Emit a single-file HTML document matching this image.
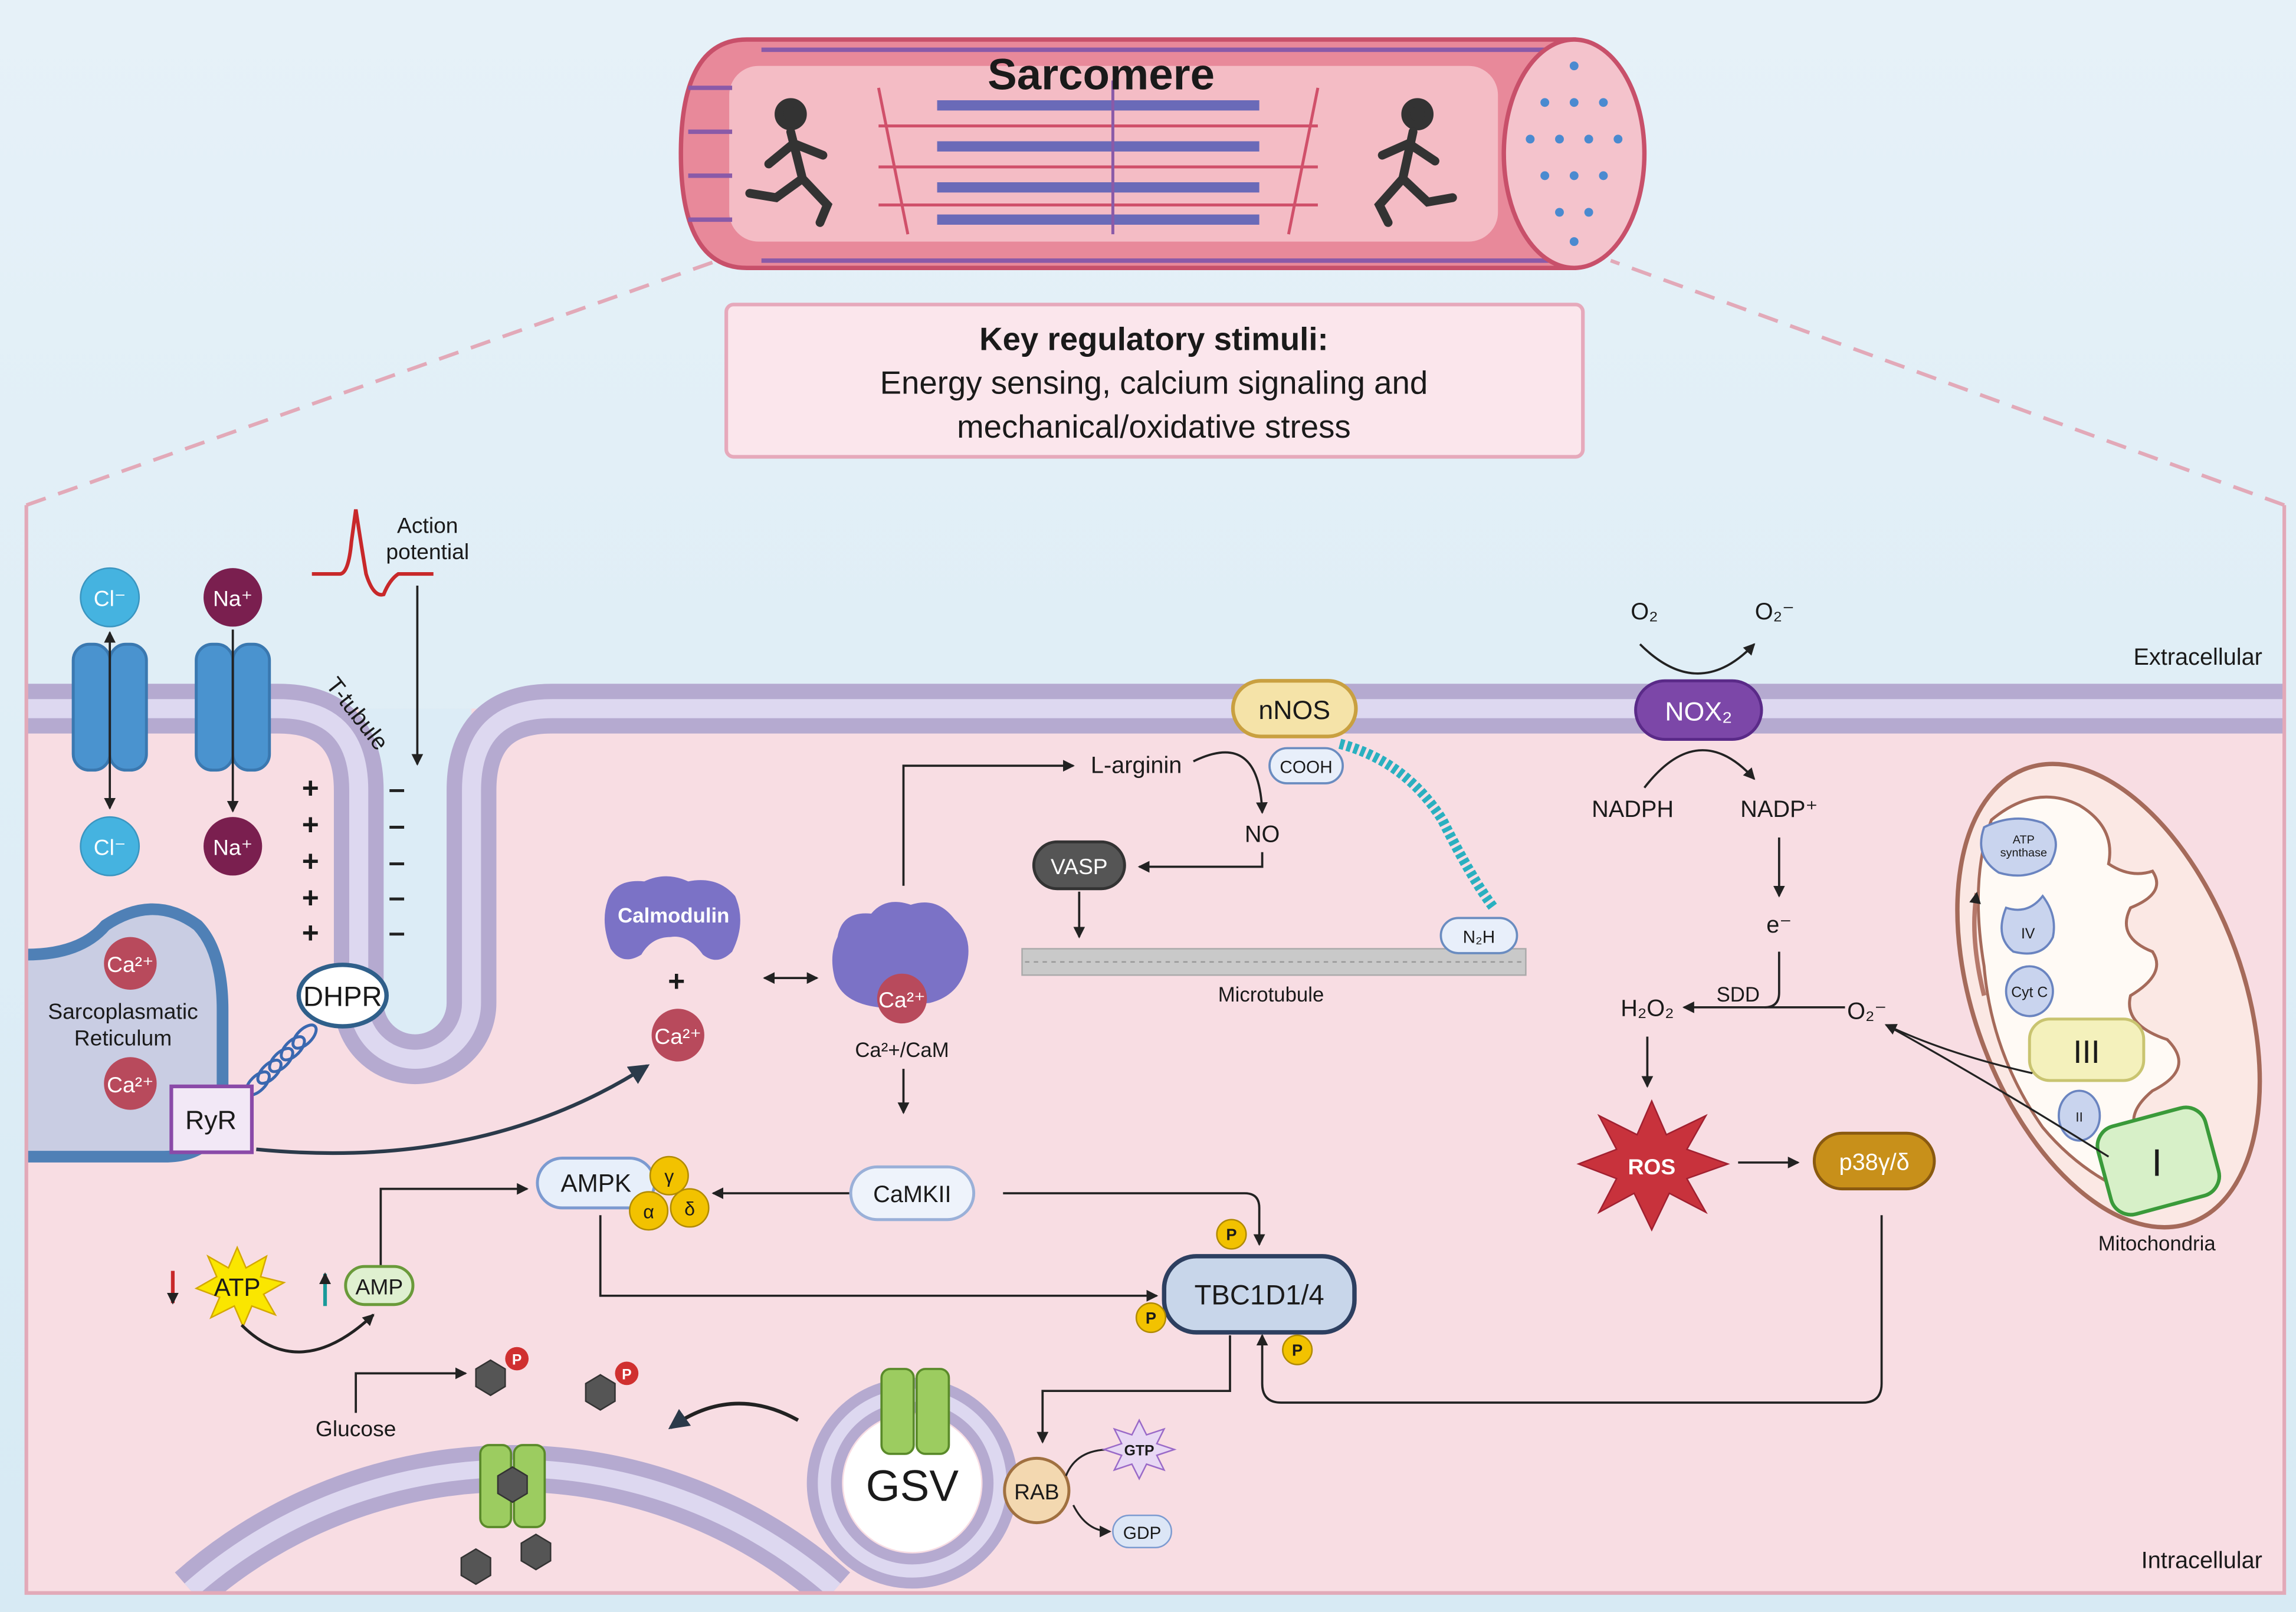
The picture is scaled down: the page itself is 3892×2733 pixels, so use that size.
<!DOCTYPE html>
<html><head><meta charset="utf-8"><style>
html,body{margin:0;padding:0;background:#dcedf6;width:3892px;height:2733px;overflow:hidden;}
svg{display:block;}
text{font-family:"Liberation Sans",sans-serif;fill:#1a1a1a;}
</style></head><body>
<svg width="3892" height="2733" viewBox="0 0 1568 1101" preserveAspectRatio="none" xmlns="http://www.w3.org/2000/svg">
<defs>
<marker id="ah" markerWidth="8" markerHeight="8" refX="7" refY="4" orient="auto" markerUnits="userSpaceOnUse"><path d="M0,0 L8,4 L0,8 z" fill="#222"/></marker>
<marker id="ahb" markerWidth="14" markerHeight="14" refX="12" refY="7" orient="auto" markerUnits="userSpaceOnUse"><path d="M0,0 L14,7 L0,14 z" fill="#2b3a4a"/></marker>
<marker id="ahs" markerWidth="8" markerHeight="8" refX="1" refY="4" orient="auto" markerUnits="userSpaceOnUse"><path d="M8,0 L0,4 L8,8 z" fill="#222"/></marker>
<linearGradient id="bg" x1="0" y1="0" x2="0" y2="1"><stop offset="0" stop-color="#e6f1f8"/><stop offset="1" stop-color="#d7eaf4"/></linearGradient>
</defs>
<rect width="1568" height="1101" fill="url(#bg)"/>
<path d="M18,345 L490,178" stroke="#e2a9b8" stroke-width="2.5" stroke-dasharray="14,9" fill="none"/>
<path d="M1560,345 L1100,178" stroke="#e2a9b8" stroke-width="2.5" stroke-dasharray="14,9" fill="none"/>
<rect x="18" y="484" width="1542" height="604" fill="#f8dde3"/>
<path d="M245,484 V685 A38.5,38.5 0 0 0 322,685 V484 Z" fill="#dcecf6"/>
<path d="M18,484 H190 Q245,484 245,540 V685 A38.5,38.5 0 0 0 322,685 V540 Q322,484 377,484 H1560" stroke="#b5aad0" stroke-width="34" fill="none"/>
<path d="M18,484 H190 Q245,484 245,540 V685 A38.5,38.5 0 0 0 322,685 V540 Q322,484 377,484 H1560" stroke="#ddd8f0" stroke-width="13" fill="none"/>
<path d="M510,27 H1075 V183 H510 Q465,183 465,105 Q465,27 510,27 Z" fill="#e8899a" stroke="#c8506a" stroke-width="3"/>
<rect x="498" y="45" width="525" height="120" rx="20" fill="#f4bcc5"/>
<g stroke="#8a5aa8" stroke-width="3">
<line x1="470" y1="60" x2="500" y2="60"/><line x1="470" y1="90" x2="500" y2="90"/><line x1="470" y1="120" x2="500" y2="120"/><line x1="470" y1="150" x2="500" y2="150"/>
<line x1="520" y1="178" x2="1060" y2="178"/><line x1="520" y1="34" x2="1060" y2="34"/></g>
<g stroke="#6a6ab8" stroke-width="7">
<line x1="640" y1="72" x2="860" y2="72"/><line x1="640" y1="100" x2="860" y2="100"/><line x1="640" y1="128" x2="860" y2="128"/><line x1="640" y1="150" x2="860" y2="150"/></g>
<g stroke="#d0506a" stroke-width="2" fill="none">
<line x1="600" y1="86" x2="900" y2="86"/><line x1="600" y1="114" x2="900" y2="114"/><line x1="600" y1="140" x2="900" y2="140"/>
<path d="M600,60 L620,160 M900,60 L880,160"/></g>
<line x1="760" y1="55" x2="760" y2="160" stroke="#8a5aa8" stroke-width="2"/>
<ellipse cx="1075" cy="105" rx="48" ry="78" fill="#f4c3cc" stroke="#c8506a" stroke-width="3"/>
<g fill="#4a8ad0"><circle cx="1055" cy="70" r="3"/><circle cx="1075" cy="70" r="3"/><circle cx="1095" cy="70" r="3"/><circle cx="1045" cy="95" r="3"/><circle cx="1065" cy="95" r="3"/><circle cx="1085" cy="95" r="3"/><circle cx="1105" cy="95" r="3"/><circle cx="1055" cy="120" r="3"/><circle cx="1075" cy="120" r="3"/><circle cx="1095" cy="120" r="3"/><circle cx="1065" cy="145" r="3"/><circle cx="1085" cy="145" r="3"/><circle cx="1075" cy="45" r="3"/><circle cx="1075" cy="165" r="3"/></g>
<g fill="#333" stroke="#333" stroke-width="6" stroke-linecap="round">
<circle cx="540" cy="78" r="8"/><path d="M540,90 L548,122 M548,122 L530,135 L512,132 M548,122 L565,140 L560,152 M542,98 L525,112 M542,98 L562,106" fill="none"/>
<circle cx="968" cy="78" r="8"/><path d="M965,90 L958,122 M958,122 L975,138 L992,135 M958,122 L942,140 L948,152 M962,98 L980,110 M962,98 L944,106" fill="none"/></g>
<text x="752" y="61" font-size="30" font-weight="bold" text-anchor="middle">Sarcomere</text>
<rect x="496" y="208" width="585" height="104" rx="5" fill="#fbe6ec" stroke="#e6a9bb" stroke-width="2.5"/>
<text x="788" y="239" font-size="22" font-weight="bold" text-anchor="middle">Key regulatory stimuli:</text>
<text x="788" y="269" font-size="22" text-anchor="middle">Energy sensing, calcium signaling and</text>
<text x="788" y="299" font-size="22" text-anchor="middle">mechanical/oxidative stress</text>
<g fill="#4a93cf" stroke="#3a78b0" stroke-width="2">
<rect x="50" y="440" width="25" height="86" rx="11"/><rect x="75" y="440" width="25" height="86" rx="11"/>
<rect x="134" y="440" width="25" height="86" rx="11"/><rect x="159" y="440" width="25" height="86" rx="11"/></g>
<line x1="75" y1="432" x2="75" y2="552" stroke="#222" stroke-width="1.5" marker-end="url(#ah)" marker-start="url(#ahs)"/>
<line x1="159" y1="430" x2="159" y2="554" stroke="#222" stroke-width="1.5" marker-end="url(#ah)"/>
<circle cx="75" cy="408" r="20" fill="#45b3e0" stroke="#3a95c0"/><text x="75" y="414" font-size="15" text-anchor="middle" style="fill:#fff">Cl⁻</text>
<circle cx="75" cy="578" r="20" fill="#45b3e0" stroke="#3a95c0"/><text x="75" y="584" font-size="15" text-anchor="middle" style="fill:#fff">Cl⁻</text>
<circle cx="159" cy="408" r="20" fill="#7a1f4f"/><text x="159" y="414" font-size="15" text-anchor="middle" style="fill:#fff">Na⁺</text>
<circle cx="159" cy="578" r="20" fill="#7a1f4f"/><text x="159" y="584" font-size="15" text-anchor="middle" style="fill:#fff">Na⁺</text>
<path d="M213,392 H232 Q238,392 240,370 L243,348 Q246,368 250,392 Q255,408 262,406 Q266,396 272,392 H296" stroke="#c8282a" stroke-width="2.5" fill="none"/>
<text x="292" y="364" font-size="15" text-anchor="middle">Action</text>
<text x="292" y="382" font-size="15" text-anchor="middle">potential</text>
<line x1="285" y1="400" x2="285" y2="522" stroke="#222" stroke-width="1.5" marker-end="url(#ah)"/>
<text x="222" y="468" font-size="16" transform="rotate(52 222 468)">T-tubule</text>
<g font-size="20" font-weight="bold"><text x="212" y="545" text-anchor="middle">+</text><text x="212" y="570" text-anchor="middle">+</text><text x="212" y="595" text-anchor="middle">+</text><text x="212" y="620" text-anchor="middle">+</text><text x="212" y="644" text-anchor="middle">+</text></g>
<g stroke="#222" stroke-width="2"><line x1="266" y1="540" x2="276" y2="540"/><line x1="266" y1="565" x2="276" y2="565"/><line x1="266" y1="590" x2="276" y2="590"/><line x1="266" y1="614" x2="276" y2="614"/><line x1="266" y1="638" x2="276" y2="638"/></g>
<path d="M18,652 Q55,652 72,632 Q105,610 135,632 Q152,650 152,690 V750 Q152,790 112,790 H18" fill="#c9cde3" stroke="#4f80b6" stroke-width="8"/>
<circle cx="89" cy="658" r="18" fill="#b84a5c"/><text x="89" y="664" font-size="15" text-anchor="middle" style="fill:#fff">Ca²⁺</text>
<circle cx="89" cy="740" r="18" fill="#b84a5c"/><text x="89" y="746" font-size="15" text-anchor="middle" style="fill:#fff">Ca²⁺</text>
<text x="84" y="696" font-size="15" text-anchor="middle">Sarcoplasmatic</text>
<text x="84" y="714" font-size="15" text-anchor="middle">Reticulum</text>
<g fill="none" stroke="#3a68b0" stroke-width="2"><ellipse cx="176" cy="740" rx="5" ry="10" transform="rotate(45 176 740)"/><ellipse cx="184" cy="732" rx="5" ry="10" transform="rotate(45 184 732)"/><ellipse cx="192" cy="724" rx="5" ry="10" transform="rotate(45 192 724)"/><ellipse cx="200" cy="716" rx="5" ry="10" transform="rotate(45 200 716)"/><ellipse cx="208" cy="708" rx="5" ry="10" transform="rotate(45 208 708)"/></g>
<ellipse cx="234" cy="680" rx="30" ry="21" fill="#fff" stroke="#2f5f8a" stroke-width="3"/><text x="234" y="687" font-size="19" text-anchor="middle">DHPR</text>
<rect x="117" y="742" width="55" height="45" fill="#f2e8f6" stroke="#8a4aa8" stroke-width="2.5"/><text x="144" y="771" font-size="18" text-anchor="middle">RyR</text>
<path d="M175,785 Q330,800 442,728" stroke="#2b3a4a" stroke-width="2.5" fill="none" marker-end="url(#ahb)"/>
<path d="M415,615 Q420,600 440,602 Q455,595 470,602 Q490,598 502,612 Q510,630 500,650 Q490,660 480,652 Q470,638 458,640 Q445,640 438,652 Q425,660 417,648 Q410,630 415,615 Z" fill="#7b72c6"/>
<text x="460" y="630" font-size="14" font-weight="bold" text-anchor="middle" style="fill:#fff">Calmodulin</text>
<text x="462" y="677" font-size="20" font-weight="bold" text-anchor="middle">+</text>
<circle cx="463" cy="707" r="18" fill="#b84a5c"/><text x="463" y="713" font-size="15" text-anchor="middle" style="fill:#fff">Ca²⁺</text>
<line x1="522" y1="668" x2="558" y2="668" stroke="#222" stroke-width="1.5" marker-end="url(#ah)" marker-start="url(#ahs)"/>
<path d="M572,640 Q575,622 595,624 Q605,612 622,618 Q640,612 652,628 Q665,640 660,660 Q655,680 635,685 L600,688 Q575,685 570,668 Q566,652 572,640 Z" fill="#7b72c6"/>
<circle cx="616" cy="682" r="17" fill="#b84a5c"/><text x="616" y="688" font-size="15" text-anchor="middle" style="fill:#fff">Ca²⁺</text>
<text x="616" y="722" font-size="14" text-anchor="middle">Ca²+/CaM</text>
<line x1="617" y1="730" x2="617" y2="760" stroke="#222" stroke-width="1.5" marker-end="url(#ah)"/>
<path d="M617,605 V523 H733" stroke="#222" stroke-width="1.5" fill="none" marker-end="url(#ah)"/>
<text x="776" y="528" font-size="16" text-anchor="middle">L-arginin</text>
<path d="M815,520 Q860,498 862,555" stroke="#222" stroke-width="1.5" fill="none" marker-end="url(#ah)"/>
<text x="862" y="575" font-size="16" text-anchor="middle">NO</text>
<path d="M862,582 V592 H778" stroke="#222" stroke-width="1.5" fill="none" marker-end="url(#ah)"/>
<path d="M915,508 Q960,520 985,560 Q1005,600 1020,620" stroke="#2ab0c0" stroke-width="7" stroke-dasharray="3,2" fill="none"/>
<rect x="842" y="465" width="84" height="38" rx="19" fill="#f5e3a8" stroke="#c9a040" stroke-width="2.5"/><text x="884" y="491" font-size="18" text-anchor="middle">nNOS</text>
<rect x="867" y="511" width="50" height="24" rx="12" fill="#e8effa" stroke="#6a8cc0" stroke-width="1.5"/><text x="892" y="528" font-size="12" text-anchor="middle">COOH</text>
<rect x="706" y="575" width="62" height="32" rx="16" fill="#555" stroke="#333" stroke-width="2"/><text x="737" y="597" font-size="15" text-anchor="middle" style="fill:#fff">VASP</text>
<line x1="737" y1="609" x2="737" y2="640" stroke="#222" stroke-width="1.5" marker-end="url(#ah)"/>
<rect x="698" y="648" width="344" height="18" fill="#c9c9c9" stroke="#aaa"/>
<path d="M700,657 H1040" stroke="#999" stroke-width="1" stroke-dasharray="3,3"/>
<text x="868" y="684" font-size="14" text-anchor="middle">Microtubule</text>
<rect x="984" y="627" width="52" height="24" rx="12" fill="#e8effa" stroke="#6a8cc0" stroke-width="1.5"/><text x="1010" y="644" font-size="12" text-anchor="middle">N₂H</text>
<text x="1123" y="423" font-size="16" text-anchor="middle">O₂</text>
<text x="1212" y="423" font-size="16" text-anchor="middle">O₂⁻</text>
<path d="M1120,440 Q1160,480 1198,440" stroke="#222" stroke-width="1.5" fill="none" marker-end="url(#ah)"/>
<path d="M1123,538 Q1160,490 1198,532" stroke="#222" stroke-width="1.5" fill="none" marker-end="url(#ah)"/>
<rect x="1117" y="465" width="86" height="40" rx="20" fill="#7c47a8" stroke="#5a2a88" stroke-width="2"/><text x="1160" y="492" font-size="18" text-anchor="middle" style="fill:#fff">NOX₂</text>
<text x="1115" y="558" font-size="16" text-anchor="middle">NADPH</text>
<text x="1215" y="558" font-size="16" text-anchor="middle">NADP⁺</text>
<line x1="1215" y1="572" x2="1215" y2="612" stroke="#222" stroke-width="1.5" marker-end="url(#ah)"/>
<text x="1215" y="637" font-size="16" text-anchor="middle">e⁻</text>
<path d="M1215,650 V678 Q1215,688 1205,688" stroke="#222" stroke-width="1.5" fill="none"/>
<line x1="1260" y1="688" x2="1150" y2="688" stroke="#222" stroke-width="1.5" marker-end="url(#ah)"/>
<text x="1187" y="684" font-size="14" text-anchor="middle">SDD</text>
<text x="1125" y="694" font-size="16" text-anchor="middle">H₂O₂</text>
<text x="1275" y="696" font-size="16" text-anchor="middle">O₂⁻</text>
<line x1="1125" y1="708" x2="1125" y2="742" stroke="#222" stroke-width="1.5" marker-end="url(#ah)"/>
<polygon points="1128,752 1138,775 1165,762 1152,785 1180,795 1152,805 1165,828 1140,815 1128,840 1116,815 1092,828 1104,805 1078,795 1104,785 1092,762 1118,775" fill="#c8323c" stroke="#a02030"/>
<text x="1128" y="802" font-size="15" font-weight="bold" text-anchor="middle" style="fill:#fff">ROS</text>
<line x1="1187" y1="794" x2="1228" y2="794" stroke="#222" stroke-width="1.5" marker-end="url(#ah)"/>
<rect x="1239" y="774" width="82" height="38" rx="19" fill="#c8901a" stroke="#8a5a10" stroke-width="2"/><text x="1280" y="799" font-size="16" text-anchor="middle" style="fill:#fff">p38γ/δ</text>
<path d="M1285,830 V945 Q1285,958 1272,958 H875 Q862,958 862,945 V912" stroke="#222" stroke-width="1.5" fill="none" marker-end="url(#ah)"/>
<ellipse cx="1440" cy="680" rx="92" ry="165" transform="rotate(-20 1440 680)" fill="#fbe8e4" stroke="#a56a5a" stroke-width="3"/>
<path d="M1360,560 Q1390,535 1420,550 Q1445,565 1440,590 Q1455,600 1470,595 Q1480,610 1455,620 Q1445,640 1470,650 Q1480,665 1455,680 Q1450,700 1480,710 Q1500,730 1470,745 Q1440,770 1480,790 Q1480,815 1455,815 Q1420,800 1395,770 Q1360,720 1355,660 Q1345,600 1360,560 Z" fill="#fffaf5" stroke="#a56a5a" stroke-width="2"/>
<path d="M1355,680 Q1345,640 1350,610" stroke="#b5786a" stroke-width="3" fill="none" marker-end="url(#ah)"/>
<path d="M1355,565 Q1375,555 1395,562 Q1410,572 1400,590 Q1385,602 1365,596 Q1348,585 1355,565 Z" fill="#c9d4ee" stroke="#6a84c0" stroke-width="1.5"/>
<text x="1382" y="576" font-size="8" text-anchor="middle">ATP</text><text x="1382" y="585" font-size="8" text-anchor="middle">synthase</text>
<path d="M1370,620 Q1385,625 1395,612 Q1405,625 1402,640 Q1395,655 1375,650 Q1362,640 1370,620 Z" fill="#c9d4ee" stroke="#6a84c0" stroke-width="1.5"/>
<text x="1385" y="641" font-size="10" text-anchor="middle">IV</text>
<ellipse cx="1386" cy="677" rx="16" ry="17" fill="#c9d4ee" stroke="#6a84c0" stroke-width="1.5"/><text x="1386" y="681" font-size="10" text-anchor="middle">Cyt C</text>
<rect x="1386" y="696" width="78" height="42" rx="14" fill="#f4f1bc" stroke="#c9c470" stroke-width="2"/><text x="1425" y="726" font-size="22" text-anchor="middle">III</text>
<ellipse cx="1420" cy="762" rx="14" ry="17" fill="#c9d4ee" stroke="#6a84c0" stroke-width="1.5"/><text x="1420" y="766" font-size="9" text-anchor="middle">II</text>
<rect x="1436" y="762" width="76" height="62" rx="14" fill="#d7f0c8" stroke="#3a9a3a" stroke-width="2.5" transform="rotate(-15 1474 793)"/><text x="1473" y="803" font-size="26" text-anchor="middle">I</text>
<path d="M1388,733 Q1330,720 1288,700" stroke="#222" stroke-width="1.3" fill="none" marker-end="url(#ah)"/>
<path d="M1440,790 Q1360,740 1288,700" stroke="#222" stroke-width="1.3" fill="none"/>
<text x="1473" y="854" font-size="14" text-anchor="middle">Mitochondria</text>
<text x="1545" y="454" font-size="16" text-anchor="end">Extracellular</text>
<text x="1545" y="1071" font-size="16" text-anchor="end">Intracellular</text>
<rect x="367" y="791" width="80" height="34" rx="17" fill="#e7effa" stroke="#7c9ad0" stroke-width="2"/><text x="407" y="814" font-size="17" text-anchor="middle">AMPK</text>
<g fill="#f2c200" stroke="#b08a00" stroke-width="1"><circle cx="457" cy="803" r="13"/><circle cx="443" cy="827" r="13"/><circle cx="471" cy="825" r="13"/></g>
<g font-size="13" text-anchor="middle"><text x="457" y="808">γ</text><text x="443" y="832">α</text><text x="471" y="830">δ</text></g>
<line x1="580" y1="815" x2="487" y2="815" stroke="#222" stroke-width="1.5" marker-end="url(#ah)"/>
<rect x="581" y="797" width="84" height="36" rx="18" fill="#eef3fb" stroke="#9ab0d8" stroke-width="2"/><text x="623" y="821" font-size="16" text-anchor="middle">CaMKII</text>
<path d="M685,815 H850 Q860,815 860,825 V850" stroke="#222" stroke-width="1.5" fill="none" marker-end="url(#ah)"/>
<path d="M410,830 V885 H790" stroke="#222" stroke-width="1.5" fill="none" marker-end="url(#ah)"/>
<rect x="795" y="858" width="130" height="52" rx="22" fill="#c8d6ea" stroke="#2d3f60" stroke-width="3"/><text x="860" y="891" font-size="19" text-anchor="middle">TBC1D1/4</text>
<g fill="#f2c200" stroke="#b08a00"><circle cx="841" cy="843" r="10"/><circle cx="786" cy="900" r="10"/><circle cx="886" cy="922" r="10"/></g>
<g font-size="11" font-weight="bold" text-anchor="middle"><text x="841" y="847">P</text><text x="786" y="904">P</text><text x="886" y="926">P</text></g>
<polygon points="162,852 168,866 182,858 178,872 194,876 180,884 188,898 172,892 166,906 160,892 144,900 150,886 134,880 148,872 142,858 156,866" fill="#fae600" stroke="#d4a800"/>
<text x="162" y="885" font-size="17" text-anchor="middle">ATP</text>
<line x1="118" y1="868" x2="118" y2="890" stroke="#c8282a" stroke-width="2.5" marker-end="url(#ah)"/>
<line x1="222" y1="892" x2="222" y2="870" stroke="#1a9a9a" stroke-width="2.5" marker-end="url(#ah)"/>
<rect x="236" y="865" width="46" height="26" rx="13" fill="#dff0d0" stroke="#6a9a3a" stroke-width="2"/><text x="259" y="884" font-size="15" text-anchor="middle">AMP</text>
<path d="M260,864 V812 H360" stroke="#222" stroke-width="1.5" fill="none" marker-end="url(#ah)"/>
<path d="M165,905 Q205,945 255,898" stroke="#222" stroke-width="2" fill="none" marker-end="url(#ah)"/>
<text x="243" y="981" font-size="15" text-anchor="middle">Glucose</text>
<path d="M243,965 V938 H318" stroke="#222" stroke-width="1.5" fill="none" marker-end="url(#ah)"/>
<g fill="#555" stroke="#333"><polygon points="335,929 345,935 345,947 335,953 325,947 325,935"/><polygon points="410,939 420,945 420,957 410,963 400,957 400,945"/></g>
<g fill="#d03030"><circle cx="353" cy="928" r="8"/><circle cx="428" cy="938" r="8"/></g>
<g font-size="10" font-weight="bold" text-anchor="middle"><text x="353" y="932" style="fill:#fff">P</text><text x="428" y="942" style="fill:#fff">P</text></g>
<path d="M545,970 Q500,945 458,975" stroke="#222" stroke-width="2.5" fill="none" marker-end="url(#ahb)"/>
<path d="M130,1086 A333,333 0 0 1 570,1086" fill="none" stroke="#b5aad0" stroke-width="32"/>
<path d="M130,1086 A333,333 0 0 1 570,1086" fill="none" stroke="#ddd8f0" stroke-width="12"/>
<rect x="18" y="1089" width="700" height="12" fill="#d7eaf4"/>
<g fill="#9ccc60" stroke="#5a8a2a" stroke-width="1.5"><rect x="328" y="987" width="21" height="56" rx="6"/><rect x="351" y="987" width="21" height="56" rx="6"/></g>
<g fill="#555" stroke="#333"><polygon points="350,1002 360,1008 360,1020 350,1026 340,1020 340,1008"/><polygon points="325,1058 335,1064 335,1076 325,1082 315,1076 315,1064"/><polygon points="366,1048 376,1054 376,1066 366,1072 356,1066 356,1054"/></g>
<path d="M18,345 V1088 H1560 V345" stroke="#e2a9b8" stroke-width="2.5" fill="none"/>
<circle cx="623" cy="1013" r="60" fill="none" stroke="#b5aad0" stroke-width="24"/>
<circle cx="623" cy="1013" r="60" fill="none" stroke="#ddd8f0" stroke-width="9"/>
<circle cx="623" cy="1013" r="47" fill="#fff"/>
<g fill="#9ccc60" stroke="#5a8a2a" stroke-width="1.5"><rect x="602" y="935" width="22" height="58" rx="6"/><rect x="626" y="935" width="22" height="58" rx="6"/></g>
<text x="623" y="1025" font-size="30" text-anchor="middle">GSV</text>
<path d="M840,912 V950 H712 V985" stroke="#222" stroke-width="1.5" fill="none" marker-end="url(#ah)"/>
<circle cx="708" cy="1018" r="22" fill="#f3d8b0" stroke="#a07040" stroke-width="2"/><text x="708" y="1024" font-size="15" text-anchor="middle">RAB</text>
<path d="M728,1008 Q735,990 758,990" stroke="#222" stroke-width="1.3" fill="none"/>
<path d="M733,1028 Q742,1046 758,1046" stroke="#222" stroke-width="1.3" fill="none" marker-end="url(#ah)"/>
<polygon points="778,970 783,980 795,976 790,986 802,990 790,994 795,1004 783,1000 778,1010 773,1000 761,1004 766,994 754,990 766,986 761,976 773,980" fill="#e8d8f4" stroke="#9a6ac8"/>
<text x="778" y="994" font-size="10" font-weight="bold" text-anchor="middle">GTP</text>
<rect x="760" y="1035" width="40" height="22" rx="11" fill="#dce6f6" stroke="#7c9ad0"/><text x="780" y="1051" font-size="12" text-anchor="middle">GDP</text>
</svg>
</body></html>
